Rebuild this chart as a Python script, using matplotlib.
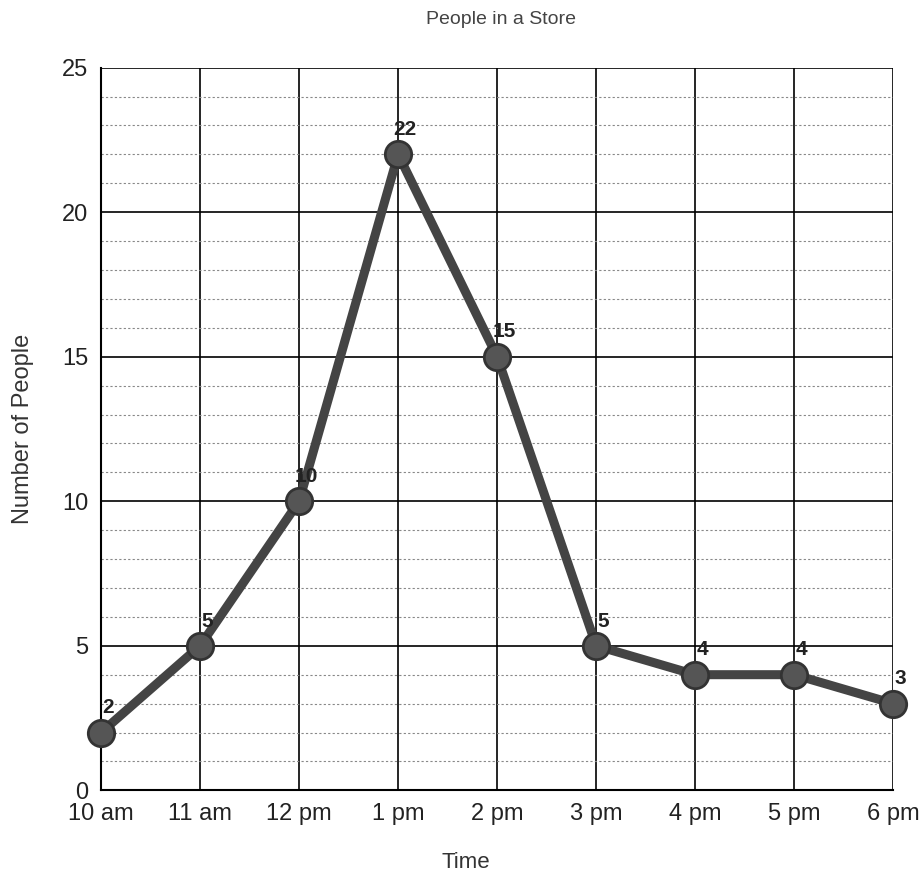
import matplotlib
matplotlib.use("Agg")
import matplotlib.pyplot as plt
from matplotlib.ticker import MultipleLocator

times = ["10 am", "11 am", "12 pm", "1 pm", "2 pm", "3 pm", "4 pm", "5 pm", "6 pm"]
people = [2, 5, 10, 22, 15, 5, 4, 4, 3]

plt.rcParams['font.family'] = ['Liberation Sans', 'DejaVu Sans']

fig = plt.figure(figsize=(9.19, 8.9), dpi=100)
ax = fig.add_axes([0.11, 0.112, 0.862, 0.812])

x = list(range(len(times)))
ax.plot(x, people, color="#444444", linewidth=6.5, marker="o", markersize=19,
        markerfacecolor="#555555", markeredgecolor="#333333", markeredgewidth=2,
        zorder=3, clip_on=False)

for xi, v in zip(x, people):
    ax.annotate(str(v), (xi, v), xytext=(5, 11), textcoords="offset points",
                ha="center", va="bottom", fontsize=15, fontweight="bold",
                color="#222222", zorder=4)

ax.set_xlim(0, len(times) - 1)
ax.set_ylim(0, 25)
ax.set_xticks(x)
ax.set_xticklabels(times)
ax.yaxis.set_major_locator(MultipleLocator(5))
ax.yaxis.set_minor_locator(MultipleLocator(1))

ax.grid(which="major", axis="both", color="black", linewidth=1.2)
ax.grid(which="minor", axis="y", color="#888888", linewidth=0.8, linestyle=(0, (2, 2)))
ax.set_axisbelow(True)

for s in ax.spines.values():
    s.set_visible(False)
ax.spines["left"].set_visible(True)
ax.spines["bottom"].set_visible(True)
ax.spines["left"].set_linewidth(1.5)
ax.spines["bottom"].set_linewidth(1.5)

ax.tick_params(axis="both", which="major", labelsize=17, length=0, colors="#222222")
ax.tick_params(axis="x", which="major", pad=9)
ax.tick_params(axis="y", which="major", pad=9)
ax.tick_params(axis="y", which="minor", length=0)

ax.set_xlabel("Time", fontsize=16, color="#333333")
ax.xaxis.set_label_coords(0.46, -0.085)
ax.set_ylabel("Number of People", fontsize=17, color="#333333")
ax.yaxis.set_label_coords(-0.085, 0.5)
fig.text(0.545, 0.978, "People in a Store", ha="center", va="center", fontsize=14, color="#444444")

fig.savefig("out.png", dpi=100, facecolor="white")
